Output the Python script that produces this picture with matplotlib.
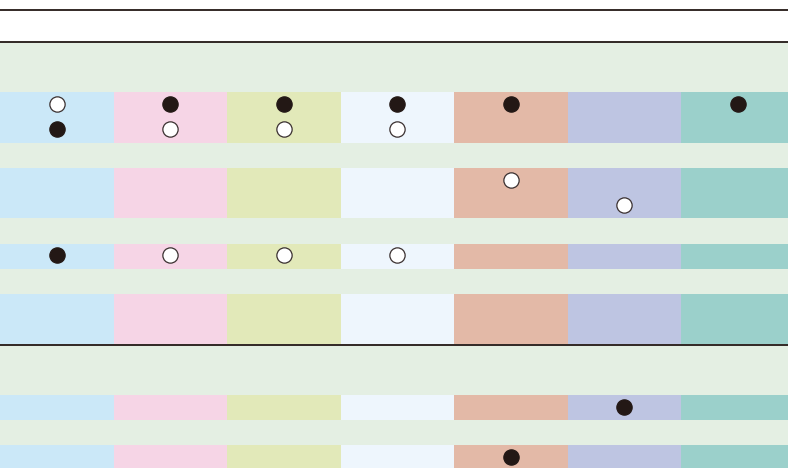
import matplotlib.pyplot as plt
from matplotlib.patches import Rectangle

# column colours (7 groups)
col_colors = ["#CBE8F8", "#F6D5E6", "#E2E9B9", "#EEF6FD", "#E3B9A7", "#BEC5E2", "#9BD0CB"]
band_green = "#E4EFE3"
ink = "#231815"

# coloured row blocks: (first sub-row, number of sub-rows)
blocks = [(2, 2), (5, 2), (8, 1), (10, 2), (14, 1), (16, 1)]

# dots: (column, sub-row, filled)
dots = [
    (0, 2, False), (1, 2, True), (2, 2, True), (3, 2, True), (4, 2, True), (6, 2, True),
    (0, 3, True), (1, 3, False), (2, 3, False), (3, 3, False),
    (4, 5, False), (5, 6, False),
    (0, 8, True), (1, 8, False), (2, 8, False), (3, 8, False),
    (5, 14, True),
    (4, 16, True),
]

# horizontal rules (sub-row units, 0 = top of body)
rules = [-1.27, 0, 12.03]

fig = plt.figure(figsize=(7.88, 4.68), dpi=100)
ax = fig.add_axes([0, 0, 1, 1])
ax.set_xlim(0, 6.94)
ax.set_ylim(16.91, -1.667)
ax.axis("off")

# green body background
ax.add_patch(Rectangle((0, 0), 7, 17, color=band_green, zorder=0))

for start, h in blocks:
    for c, color in enumerate(col_colors):
        ax.add_patch(Rectangle((c, start), 1, h, color=color, zorder=1, lw=0))

for y in rules:
    ax.axhline(y, color=ink, lw=1.3, zorder=3)

for c, r, filled in dots:
    ax.plot(c + 0.5, r + 0.47, "o", ms=11, mfc=ink if filled else "white",
            mec=ink if filled else "#3a3030", mew=0.9, zorder=4)

fig.savefig("out.png", dpi=100)
